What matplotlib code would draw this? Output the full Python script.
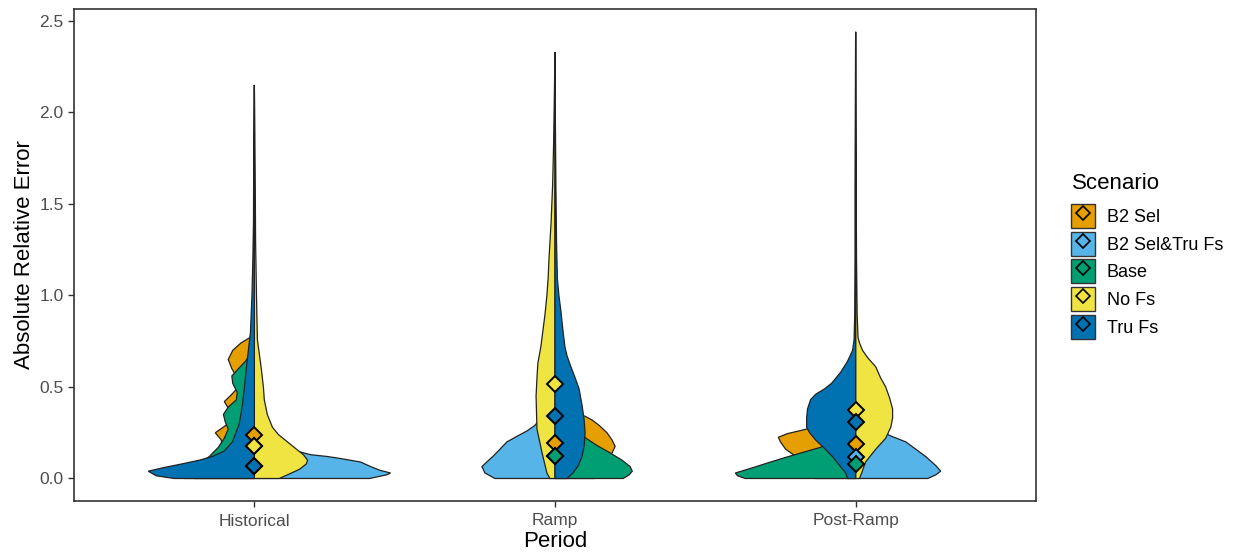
import numpy as np
import matplotlib
matplotlib.use('Agg')
import matplotlib.pyplot as plt
from matplotlib.patches import Patch
from matplotlib.lines import Line2D

plt.rcParams['font.family'] = ['Liberation Sans', 'DejaVu Sans']

######## DATA ########

periods = ['Historical', 'Ramp', 'Post-Ramp']
scenarios = ['B2 Sel', 'B2 Sel&Tru Fs', 'Base', 'No Fs', 'Tru Fs']
colors = ['#E69F00', '#56B4E9', '#009E73', '#F0E442', '#0072B2']

# which half of the split violin each scenario sits on, per period (-1 left, 1 right)
sides_hist = [-1, 1, -1, 1, -1]
sides_ramp = [1, -1, 1, -1, 1]
sides_post = [-1, 1, -1, 1, -1]

# mean absolute relative error (diamonds)
means_hist = [0.235, 0.07, 0.175, 0.175, 0.07]
means_ramp = [0.195, 0.125, 0.125, 0.515, 0.34]
means_post = [0.19, 0.12, 0.08, 0.375, 0.31]

# density profiles: error level and half width
# --- Historical
hist_b2sel_y = [0.0, 0.10, 0.17, 0.21, 0.25, 0.29, 0.33, 0.38, 0.42, 0.46, 0.50, 0.55, 0.60, 0.65, 0.70, 0.74, 0.77, 0.80]
hist_b2sel_w = [0.200, 0.150, 0.107, 0.110, 0.130, 0.095, 0.073, 0.085, 0.100, 0.075, 0.053, 0.057, 0.075, 0.087, 0.072, 0.045, 0.015, 0.0]
hist_b2tru_y = [0.0, 0.02, 0.03, 0.045, 0.065, 0.09, 0.11, 0.12, 0.13, 0.16, 0.2, 0.3, 0.4, 0.5, 0.6, 0.8, 1.0, 1.3]
hist_b2tru_w = [0.383, 0.440, 0.453, 0.417, 0.387, 0.353, 0.283, 0.243, 0.187, 0.117, 0.073, 0.040, 0.027, 0.020, 0.013, 0.007, 0.003, 0.0]
hist_base_y = [0.0, 0.06, 0.12, 0.17, 0.22, 0.27, 0.31, 0.35, 0.39, 0.43, 0.47, 0.52, 0.56, 0.60, 0.64, 0.68, 0.72, 0.75]
hist_base_w = [0.233, 0.200, 0.150, 0.120, 0.100, 0.087, 0.097, 0.103, 0.087, 0.060, 0.057, 0.072, 0.075, 0.053, 0.030, 0.013, 0.003, 0.0]
hist_nofs_y = [0.0, 0.02, 0.05, 0.08, 0.10, 0.13, 0.16, 0.20, 0.24, 0.28, 0.35, 0.43, 0.5, 0.6, 0.76, 1.0, 1.3, 1.6, 2.0, 2.15]
hist_nofs_w = [0.083, 0.110, 0.150, 0.173, 0.177, 0.163, 0.140, 0.110, 0.080, 0.060, 0.043, 0.033, 0.030, 0.023, 0.010, 0.007, 0.004, 0.003, 0.001, 0.0]
hist_trufs_y = [0.0, 0.015, 0.04, 0.06, 0.08, 0.10, 0.12, 0.15, 0.2, 0.3, 0.4, 0.5, 0.6, 0.7, 0.8, 1.0, 1.2, 1.4, 1.8, 2.15]
hist_trufs_w = [0.267, 0.327, 0.353, 0.300, 0.240, 0.183, 0.140, 0.100, 0.073, 0.050, 0.040, 0.033, 0.027, 0.020, 0.013, 0.008, 0.005, 0.003, 0.002, 0.0]
# --- Ramp
ramp_b2sel_y = [0.0, 0.1, 0.14, 0.175, 0.21, 0.25, 0.29, 0.32, 0.34, 0.36, 0.4, 0.45, 0.55, 0.7]
ramp_b2sel_w = [0.133, 0.167, 0.190, 0.200, 0.190, 0.173, 0.147, 0.123, 0.100, 0.067, 0.033, 0.017, 0.007, 0.0]
ramp_b2tru_y = [0.0, 0.03, 0.065, 0.09, 0.12, 0.16, 0.2, 0.23, 0.26, 0.29, 0.33, 0.4, 0.5, 0.7, 0.9, 1.1]
ramp_b2tru_w = [0.200, 0.233, 0.243, 0.227, 0.207, 0.183, 0.160, 0.127, 0.093, 0.067, 0.047, 0.033, 0.020, 0.010, 0.003, 0.0]
ramp_base_y = [0.0, 0.02, 0.04, 0.065, 0.10, 0.14, 0.18, 0.22, 0.26, 0.3, 0.4, 0.5, 0.7, 0.9, 1.1]
ramp_base_w = [0.227, 0.247, 0.257, 0.250, 0.223, 0.183, 0.140, 0.103, 0.080, 0.060, 0.033, 0.020, 0.010, 0.003, 0.0]
ramp_nofs_y = [0.0, 0.03, 0.14, 0.27, 0.45, 0.55, 0.63, 0.72, 0.81, 0.9, 1.0, 1.09, 1.2, 1.4, 1.6, 1.8, 2.0, 2.33]
ramp_nofs_w = [0.017, 0.027, 0.043, 0.060, 0.063, 0.060, 0.057, 0.047, 0.040, 0.033, 0.027, 0.023, 0.020, 0.013, 0.008, 0.005, 0.003, 0.0]
ramp_trufs_y = [0.0, 0.03, 0.07, 0.12, 0.18, 0.25, 0.32, 0.40, 0.49, 0.55, 0.61, 0.67, 0.72, 0.8, 0.91, 1.0, 1.09, 1.3, 1.6, 2.0, 2.33]
ramp_trufs_w = [0.040, 0.060, 0.077, 0.090, 0.097, 0.100, 0.097, 0.090, 0.080, 0.067, 0.053, 0.040, 0.033, 0.027, 0.020, 0.013, 0.008, 0.005, 0.003, 0.001, 0.0]
# --- Post-Ramp
post_b2sel_y = [0.0, 0.06, 0.10, 0.13, 0.16, 0.20, 0.225, 0.245, 0.262, 0.275, 0.29, 0.32, 0.36, 0.42, 0.5, 0.6, 0.7]
post_b2sel_w = [0.133, 0.150, 0.183, 0.207, 0.233, 0.250, 0.257, 0.227, 0.183, 0.150, 0.127, 0.090, 0.053, 0.027, 0.013, 0.003, 0.0]
post_b2tru_y = [0.0, 0.02, 0.04, 0.07, 0.12, 0.16, 0.20, 0.23, 0.26, 0.3, 0.4, 0.5, 0.7, 0.9]
post_b2tru_w = [0.240, 0.267, 0.283, 0.267, 0.233, 0.200, 0.167, 0.120, 0.083, 0.060, 0.033, 0.020, 0.007, 0.0]
post_base_y = [0.0, 0.015, 0.03, 0.06, 0.09, 0.12, 0.15, 0.17, 0.2, 0.25, 0.3, 0.4, 0.5, 0.7, 0.9]
post_base_w = [0.367, 0.393, 0.400, 0.340, 0.283, 0.223, 0.160, 0.117, 0.083, 0.057, 0.040, 0.023, 0.013, 0.003, 0.0]
post_nofs_y = [0.0, 0.03, 0.09, 0.16, 0.22, 0.28, 0.33, 0.38, 0.44, 0.5, 0.55, 0.61, 0.66, 0.70, 0.74, 0.77, 0.9, 1.2, 1.6, 2.0, 2.44]
post_nofs_w = [0.013, 0.020, 0.033, 0.067, 0.100, 0.117, 0.123, 0.123, 0.113, 0.100, 0.083, 0.067, 0.040, 0.023, 0.013, 0.008, 0.005, 0.003, 0.002, 0.001, 0.0]
post_trufs_y = [0.0, 0.03, 0.07, 0.12, 0.17, 0.21, 0.25, 0.28, 0.33, 0.38, 0.43, 0.46, 0.49, 0.52, 0.58, 0.64, 0.7, 0.76, 0.9, 1.2, 1.6, 2.0, 2.44]
post_trufs_w = [0.027, 0.033, 0.053, 0.077, 0.107, 0.133, 0.153, 0.163, 0.163, 0.160, 0.150, 0.133, 0.103, 0.080, 0.050, 0.027, 0.010, 0.005, 0.003, 0.002, 0.002, 0.001, 0.0]

profiles = [
    [(hist_b2sel_y, hist_b2sel_w), (hist_b2tru_y, hist_b2tru_w), (hist_base_y, hist_base_w),
     (hist_nofs_y, hist_nofs_w), (hist_trufs_y, hist_trufs_w)],
    [(ramp_b2sel_y, ramp_b2sel_w), (ramp_b2tru_y, ramp_b2tru_w), (ramp_base_y, ramp_base_w),
     (ramp_nofs_y, ramp_nofs_w), (ramp_trufs_y, ramp_trufs_w)],
    [(post_b2sel_y, post_b2sel_w), (post_b2tru_y, post_b2tru_w), (post_base_y, post_base_w),
     (post_nofs_y, post_nofs_w), (post_trufs_y, post_trufs_w)],
]
sides = [sides_hist, sides_ramp, sides_post]
means = [means_hist, means_ramp, means_post]

######## PLOT ########

fig = plt.figure(figsize=(12.38, 5.55), dpi=100)
ax = fig.add_axes([74/1238, 54/555, 962/1238, 492/555])

# half violins, drawn in scenario order so the later ones sit on top
for p in range(len(periods)):
    xc = p + 1
    for s in range(len(scenarios)):
        yv, wv = profiles[p][s]
        yv = np.asarray(yv)
        wv = np.asarray(wv)
        xs = np.concatenate([[xc], xc + sides[p][s]*wv, [xc]])
        ys = np.concatenate([[yv[0]], yv, [yv[-1]]])
        ax.fill(xs, ys, facecolor=colors[s], edgecolor='#222222', linewidth=0.9, zorder=2)

# means
for p in range(len(periods)):
    for s in range(len(scenarios)):
        ax.plot(p + 1, means[p][s], marker='D', markersize=8.5, markerfacecolor=colors[s],
                markeredgecolor='black', markeredgewidth=1.4, linestyle='', zorder=3)

ax.set_xlim(0.4, 3.6)
ax.set_ylim(-0.123, 2.565)
ax.set_xticks([1, 2, 3])
ax.set_xticklabels(periods)
ax.set_yticks([0.0, 0.5, 1.0, 1.5, 2.0, 2.5])
ax.set_yticklabels(['0.0', '0.5', '1.0', '1.5', '2.0', '2.5'])
ax.tick_params(labelsize=12.5, labelcolor='#4D4D4D', color='#333333', length=4, width=1)
ax.tick_params(axis='x', pad=5)
for sp in ax.spines.values():
    sp.set_color('#333333')
    sp.set_linewidth(1.2)
ax.set_xlabel('Period', fontsize=16, labelpad=2)
ax.set_ylabel('Absolute Relative Error', fontsize=16, labelpad=3)

# legend: title as plain text, keys = filled box with the mean diamond on it
fig.text(1072/1238, 1 - 184/555, 'Scenario', fontsize=16, va='center', ha='left')
handles = [(Patch(facecolor=c, edgecolor='#333333', linewidth=1),
            Line2D([], [], marker='D', markersize=7.5, markerfacecolor=c, markeredgecolor='black',
                   markeredgewidth=1.2, linestyle=''))
           for c in colors]
fig.legend(handles, scenarios, loc='upper left',
           bbox_to_anchor=(1058.5/1238, 1 - 191.5/555), frameon=False, fontsize=13,
           handlelength=1.33, handleheight=1.67,
           labelspacing=0.2, handletextpad=0.65, borderpad=0.2)

plt.savefig('out.png', dpi=100)
